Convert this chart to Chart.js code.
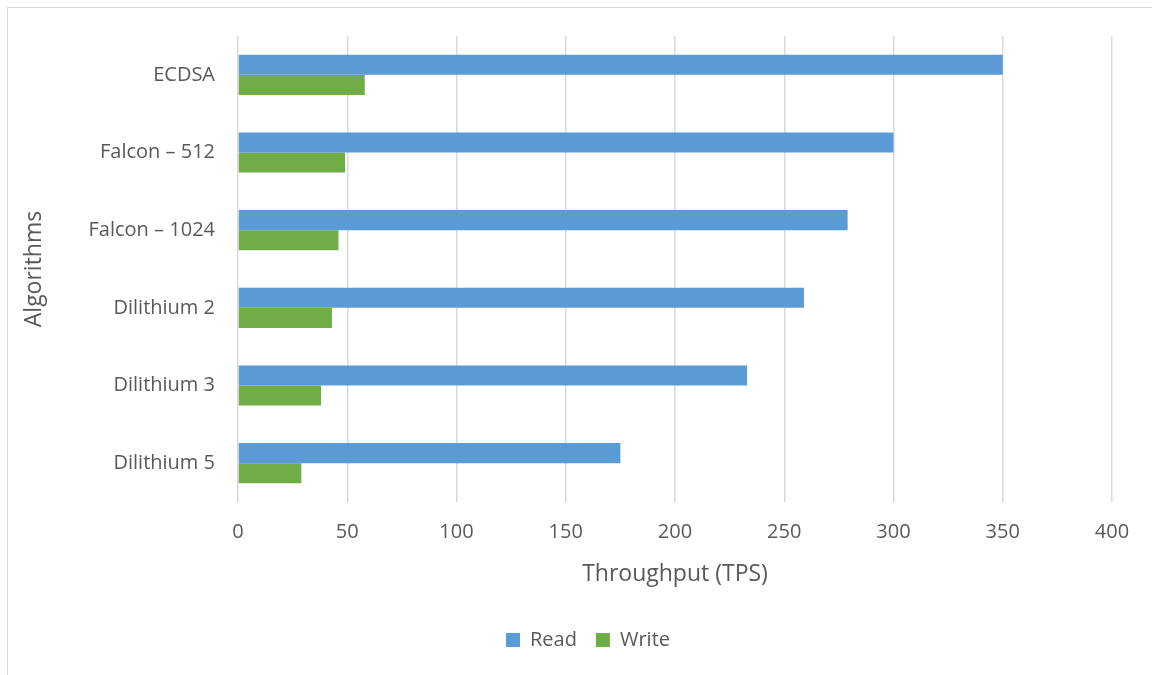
<!DOCTYPE html>
<html>
<head>
<meta charset="utf-8">
<script src="https://cdn.jsdelivr.net/npm/chart.js@4.4.1/dist/chart.umd.min.js"></script>
<style>
  html, body { margin: 0; padding: 0; background: #ffffff; overflow: hidden; }
  #frame {
    position: absolute; left: 7px; top: 7px;
    width: 1160px; height: 668px;
    border-left: 1px solid #d9d9d9; border-top: 1px solid #d9d9d9;
    background: #ffffff;
  }
  #chart { display: block; }
</style>
</head>
<body>
<div id="frame"><canvas id="chart" width="1160" height="668"></canvas></div>
<script>
// Signature algorithms and measured throughput (transactions per second)
const algorithms = ["ECDSA", "Falcon – 512", "Falcon – 1024", "Dilithium 2", "Dilithium 3", "Dilithium 5"];
const readTps  = [350, 300, 279, 259, 233, 175];
const writeTps = [58, 49, 46, 43, 38, 29];
const xTicks = [0, 50, 100, 150, 200, 250, 300, 350, 400];

const FONT = "'Open Sans', 'DejaVu Sans', sans-serif";
const TEXT = "#595959";
const GRID = "#d9d9d9";

// Centre the legend across the whole canvas instead of the padded area
const legendFullWidth = {
  id: "legendFullWidth",
  afterLayout(chart) {
    if (chart.legend) {
      chart.legend.left = 0;
      chart.legend.right = chart.width;
    }
  }
};

new Chart(document.getElementById("chart"), {
  type: "bar",
  data: {
    labels: algorithms,
    datasets: [
      { label: "Read",  data: readTps,  backgroundColor: "#5b9bd5", categoryPercentage: 0.517, barPercentage: 1.0 },
      { label: "Write", data: writeTps, backgroundColor: "#70ad47", categoryPercentage: 0.517, barPercentage: 1.0 }
    ]
  },
  plugins: [legendFullWidth],
  options: {
    indexAxis: "y",
    responsive: false,
    animation: false,
    layout: { padding: { top: 28, right: 56, left: 0, bottom: 16 } },
    plugins: {
      tooltip: { enabled: false },
      legend: {
        position: "bottom",
        labels: {
          font: { family: FONT, size: 20 },
          color: TEXT,
          boxWidth: 14,
          boxHeight: 14,
          padding: 19
        }
      }
    },
    scales: {
      x: {
        min: 0, max: 400,
        afterBuildTicks: (scale) => { scale.ticks = xTicks.map(v => ({ value: v })); },
        afterFit: (scale) => { scale.height = 109; },
        grid: { color: GRID, lineWidth: 1.5, drawTicks: false },
        border: { display: false },
        ticks: { font: { family: FONT, size: 20 }, color: TEXT, padding: 18 },
        title: {
          display: true, text: "Throughput (TPS)",
          font: { family: FONT, size: 23 }, color: TEXT, padding: { top: 4, bottom: 23 }
        }
      },
      y: {
        afterFit: (scale) => {
          scale.width = 230;
          scale.paddingTop = 0;
          scale.paddingBottom = 0;
        },
        grid: { display: false, drawTicks: false },
        border: { display: false },
        ticks: { font: { family: FONT, size: 20 }, color: TEXT, padding: 23 },
        title: {
          display: true, text: "Algorithms",
          font: { family: FONT, size: 23 }, color: TEXT, padding: { top: 13, bottom: 0 }
        }
      }
    }
  }
});
</script>
</body>
</html>
